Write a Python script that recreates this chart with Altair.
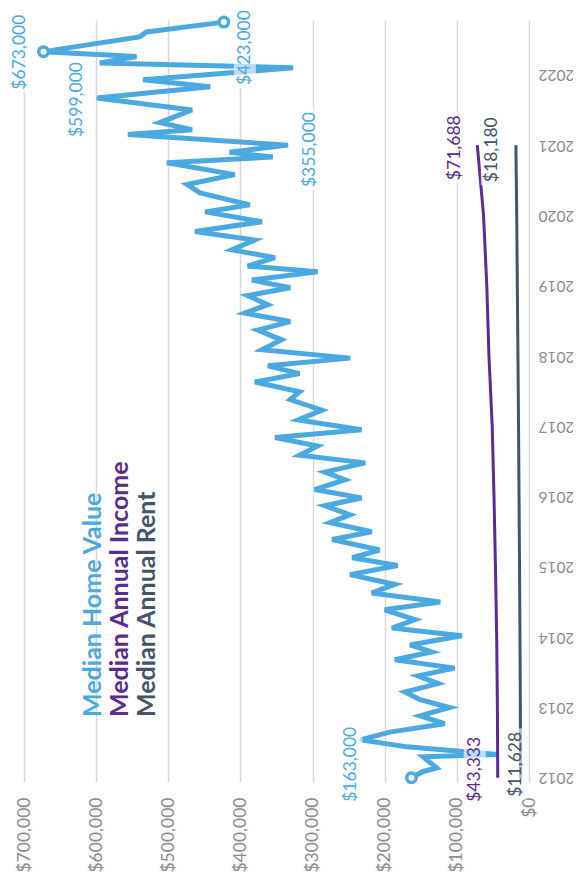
import altair as alt
import pandas as pd

# ---------------- data ----------------
home_t = [2012.00, 2012.09, 2012.14, 2012.30, 2012.33, 2012.44, 2012.54, 2012.65, 2012.77, 2012.88,
          2013.00, 2013.11, 2013.22, 2013.34, 2013.45, 2013.56, 2013.68, 2013.79, 2013.89, 2014.02,
          2014.13, 2014.25, 2014.39, 2014.50, 2014.63, 2014.75, 2014.89, 2015.02, 2015.13, 2015.24,
          2015.39, 2015.50, 2015.63, 2015.74, 2015.87, 2015.98, 2016.10, 2016.24, 2016.35, 2016.48,
          2016.59, 2016.72, 2016.84, 2016.95, 2017.09, 2017.23, 2017.38, 2017.49, 2017.63, 2017.75,
          2017.86, 2017.97, 2018.09, 2018.23, 2018.37, 2018.49, 2018.61, 2018.73, 2018.86, 2018.97,
          2019.08, 2019.20, 2019.28, 2019.40, 2019.51, 2019.65, 2019.77, 2019.91, 2020.05, 2020.15,
          2020.32, 2020.44, 2020.58, 2020.75, 2020.83, 2020.90, 2021.00, 2021.15, 2021.22, 2021.32,
          2021.50, 2021.67, 2021.83, 2021.93, 2022.10, 2022.17, 2022.26, 2022.33, 2022.54, 2022.61,
          2022.75]
home_v = [163000, 147000, 128000, 147000, 44000, 169000, 234000, 193000, 117000, 151000,
          110000, 151000, 172000, 126000, 154000, 103000, 186000, 135000, 165000, 93000,
          190000, 158000, 200000, 123000, 218000, 186000, 248000, 182000, 245000, 207000,
          273000, 218000, 276000, 248000, 283000, 232000, 297000, 255000, 283000, 227000,
          318000, 293000, 352000, 232000, 320000, 287000, 331000, 318000, 380000, 318000,
          362000, 248000, 370000, 343000, 376000, 331000, 394000, 362000, 390000, 331000,
          384000, 293000, 390000, 352000, 412000, 380000, 463000, 370000, 449000, 387000,
          456000, 474000, 408000, 502000, 355000, 415000, 334000, 556000, 467000, 512000,
          467000, 599000, 442000, 535000, 327000, 595000, 544000, 673000, 540000, 530000,
          423000]
years = [2012, 2013, 2014, 2015, 2016, 2017, 2018, 2019, 2020, 2021]
income = [43333, 43800, 44800, 46500, 48500, 51000, 55500, 58500, 63000, 71688]
rent = [11628, 12000, 12500, 13100, 13800, 14500, 15300, 16200, 17000, 18180]
value_ticks = [0, 100000, 200000, 300000, 400000, 500000, 600000, 700000]
year_ticks = [2012, 2013, 2014, 2015, 2016, 2017, 2018, 2019, 2020, 2021, 2022]
series_names = ["Median Home Value", "Median Annual Income", "Median Annual Rent"]
series_colors = ["#4BA9E1", "#5B2C8F", "#44546A"]

FONT = "Lato"
GRAY = "#8C8C8C"
LABEL_SIZE = 17.5

home = pd.DataFrame({"t": home_t, "v": home_v})
inc = pd.DataFrame({"t": years, "v": income})
rnt = pd.DataFrame({"t": years, "v": rent})

X = alt.X("v:Q",
          scale=alt.Scale(domain=[0, 700000], reverse=True, nice=False, zero=True),
          axis=alt.Axis(values=value_ticks, format="$,.0f", labelAngle=270,
                        labelAlign="right", labelBaseline="middle", title=None,
                        grid=True, gridColor="#D9D9D9", gridWidth=1.5,
                        domain=False, ticks=False, labelPadding=15,
                        labelFlush=False, labelOverlap=False, labelBound=False,
                        labelColor=GRAY, labelFont=FONT, labelFontSize=17.5))
Y = alt.Y("t:Q",
          scale=alt.Scale(domain=[2011.94, 2022.78], nice=False, zero=False),
          axis=alt.Axis(orient="right", values=year_ticks, format="d", labelAngle=180,
                        labelAlign="right", labelBaseline="middle", title=None,
                        grid=False, domain=False, ticks=False, labelPadding=9,
                        labelFlush=False, labelOverlap=False, labelBound=False,
                        labelColor=GRAY, labelFont=FONT, labelFontSize=15.5))

home_line = alt.Chart(home).mark_line(color=series_colors[0], strokeWidth=5).encode(
    x=X, y=Y, order="t:Q")
inc_line = alt.Chart(inc).mark_line(color=series_colors[1], strokeWidth=3).encode(
    x=X, y=Y, order="t:Q")
rent_line = alt.Chart(rnt).mark_line(color=series_colors[2], strokeWidth=3).encode(
    x=X, y=Y, order="t:Q")

imax = int(home["v"].idxmax())
marks_df = home.iloc[[0, imax, len(home) - 1]]
points = alt.Chart(marks_df).mark_point(filled=True, fill="white", stroke=series_colors[0],
                                        strokeWidth=3.5, size=90, opacity=1).encode(x=X, y=Y)


def text_len(v):
    s = "${:,.0f}".format(v)
    return LABEL_SIZE * (0.58 * sum(c != "," for c in s) + 0.26 * s.count(","))


def ann(df, color, dx, dy):
    """Label rotated to read bottom-to-top, on a pale box, offset from its data point."""
    L = text_len(float(df["v"].iloc[0])) + 6
    half_w = 11
    k = L / 2.0
    shape = "M{a},-1 L{b},-1 L{b},1 L{a},1 Z".format(a=-half_w / k, b=half_w / k)
    box = alt.Chart(df).mark_point(shape=shape, filled=True, fill="white", opacity=0.6,
                                   strokeWidth=0, size=L * L,
                                   xOffset=dy, yOffset=-dx - L / 2 + 3).encode(x=X, y=Y)
    txt = alt.Chart(df).mark_text(angle=270, align="left", baseline="middle", dx=dx, dy=dy,
                                  fontSize=LABEL_SIZE, font=FONT, color=color).encode(
        x=X, y=Y, text=alt.Text("v:Q", format="$,.0f"))
    return [box, txt]


i599 = home_v.index(599000)
i355 = home_v.index(355000)
annotations = []
for args in [
    (home.iloc[[0]], series_colors[0], -24, -60),
    (home.iloc[[imax]], series_colors[0], -38, -23),
    (home.iloc[[len(home) - 1]], series_colors[0], -63, 21),
    (home.iloc[[i599]], series_colors[0], -39, -20),
    (home.iloc[[i355]], series_colors[0], -30, 37),
    (inc.iloc[[0]], series_colors[1], -24, -23),
    (inc.iloc[[len(inc) - 1]], series_colors[1], -35, -22),
    (rnt.iloc[[0]], series_colors[2], -19, -5),
    (rnt.iloc[[len(rnt) - 1]], series_colors[2], -37, -24),
]:
    annotations += ann(*args)

legend_df = pd.DataFrame({"name": series_names})
legend_x = [93, 120, 147]
legend = [
    alt.Chart(legend_df.iloc[[i]]).mark_text(angle=270, align="left", baseline="middle",
                                             fontSize=25, font=FONT, fontWeight="bold",
                                             color=series_colors[i]).encode(
        x=alt.value(legend_x[i] - 24), y=alt.value(717 - 20), text="name:N")
    for i in range(3)
]

chart = alt.layer(home_line, inc_line, rent_line, points, *annotations, *legend).properties(
    width=505, height=762,
    autosize=alt.AutoSizeParams(type="none"),
    padding={"left": 16, "top": 12, "right": 44, "bottom": 96},
).configure_view(stroke=None)

chart.save("out.html", embed_options={"renderer": "svg", "actions": False})
